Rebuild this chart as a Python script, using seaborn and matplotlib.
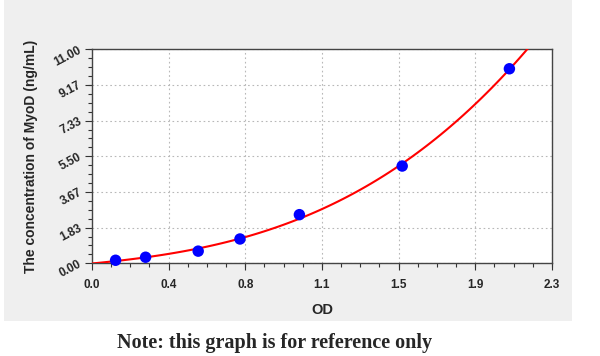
import numpy as np
import pandas as pd
from matplotlib import pyplot as plt
from matplotlib.patches import Rectangle
from matplotlib.ticker import AutoMinorLocator
import seaborn as sns

# standard curve readings
od = [0.118, 0.268, 0.531, 0.740, 1.037, 1.551, 2.087]
conc = [0.156, 0.312, 0.625, 1.25, 2.5, 5.0, 10.0]

x_ticks = [0.0, 0.3833, 0.7667, 1.15, 1.5333, 1.9167, 2.3]
x_tick_labels = ["0.0", "0.4", "0.8", "1.1", "1.5", "1.9", "2.3"]
y_ticks = [0.0, 1.8333, 3.6667, 5.5, 7.3333, 9.1667, 11.0]
y_tick_labels = ["0.00", "1.83", "3.67", "5.50", "7.33", "9.17", "11.00"]

df = pd.DataFrame({"OD": od, "conc": conc})

sns.set_theme(style="white")
plt.rcParams["font.family"] = ["Liberation Sans", "DejaVu Sans"]

fig = plt.figure(figsize=(6, 3.56), dpi=100)
fig.patches.append(Rectangle((0.006, 0.098), 0.947, 0.902, transform=fig.transFigure,
                             facecolor="#efefef", edgecolor="none", zorder=0))
ax = fig.add_axes([0.1533, 0.2604, 0.7667, 0.6011])
ax.set_zorder(2)
ax.set_facecolor("white")
ax.set_xlim(0, 2.3)
ax.set_ylim(0, 11)

# fitted curve over the full x range
sns.regplot(data=df, x="OD", y="conc", order=3, ci=None, scatter=False,
            truncate=False, color="red", line_kws={"lw": 1.5, "zorder": 3}, ax=ax)
sns.scatterplot(data=df, x="OD", y="conc", color="#0000ff", s=68, edgecolor="none",
                zorder=4, clip_on=False, ax=ax)
ax.set_xlim(0, 2.3)
ax.set_ylim(0, 11)

ax.set_xticks(x_ticks)
ax.set_xticklabels(x_tick_labels, fontsize=8.5, fontweight="bold")
ax.set_yticks(y_ticks)
ax.set_yticklabels(y_tick_labels, fontsize=8.5, fontweight="bold", rotation=28,
                   ha="right", va="center", rotation_mode="anchor")
ax.xaxis.set_minor_locator(AutoMinorLocator(4))
ax.yaxis.set_minor_locator(AutoMinorLocator(4))
ax.tick_params(which="major", direction="out", length=5, width=0.8, color="#333333",
               left=True, bottom=True, pad=3)
ax.tick_params(axis="x", which="major", pad=6)
ax.tick_params(which="minor", direction="out", length=3, width=0.8, color="#333333",
               left=True, bottom=True)
ax.grid(True, which="major", linestyle=(0, (1.5, 2.5)), color="#b8b8b8", lw=0.8)
for s in ax.spines.values():
    s.set_color("#444444")
    s.set_linewidth(1.0)

ax.set_xlabel("OD", fontsize=10.5, fontweight="bold", labelpad=9)
ax.set_ylabel("The concentration of MyoD (ng/mL)", fontsize=10, fontweight="bold", labelpad=10)

fig.text(0.458, 0.036, "Note: this graph is for reference only", ha="center", va="center",
         fontsize=14.5, fontweight="bold", family=["Liberation Serif", "DejaVu Serif"])

fig.savefig("out.png", dpi=100)
